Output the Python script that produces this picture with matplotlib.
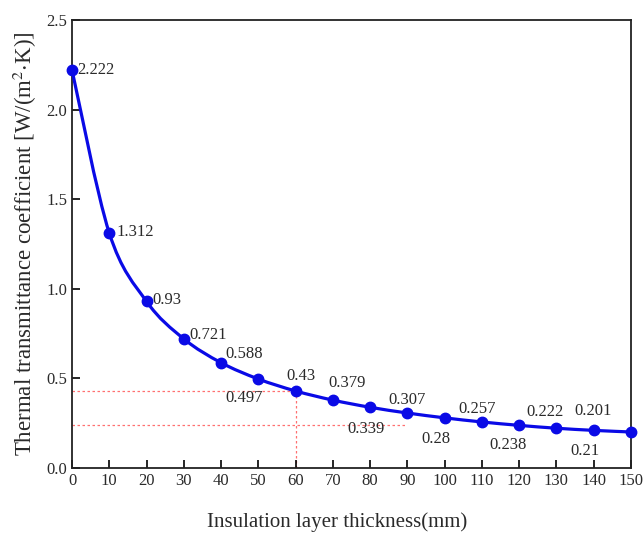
import matplotlib
matplotlib.use('Agg')
import matplotlib.pyplot as plt
from matplotlib.path import Path
from matplotlib.patches import PathPatch
import numpy as np

# Data
thickness = [0, 10, 20, 30, 40, 50, 60, 70, 80, 90, 100, 110, 120, 130, 140, 150]
u_value = [2.222, 1.312, 0.93, 0.721, 0.588, 0.497, 0.43, 0.379, 0.339,
           0.307, 0.28, 0.257, 0.238, 0.222, 0.21, 0.201]

# (label, anchor index, dx pts, dy pts, ha)
labels = [
    ('2.222', 0, 4, 0, 'left'),
    ('1.312', 1, 5, 1, 'left'),
    ('0.93', 2, 4, 1, 'left'),
    ('0.721', 3, 4, 3, 'left'),
    ('0.588', 4, 3, 6, 'left'),
    ('0.497', 5, -10, -14, 'center'),
    ('0.43', 6, 4, 11, 'center'),
    ('0.379', 7, 10, 12, 'center'),
    ('0.339', 8, -3, -16, 'center'),
    ('0.307', 9, 0, 9, 'center'),
    ('0.28', 10, -6, -15, 'center'),
    ('0.257', 11, -3, 9, 'center'),
    ('0.238', 12, -8, -14, 'center'),
    ('0.222', 13, -8, 12, 'center'),
    ('0.201', 14, 0, 14, 'center'),
    ('0.21', 14, -6, -15, 'center'),
]

TEXT = '#2a2a2a'
BLUE = '#0a0ae6'
RED = '#ff7070'

plt.rcParams['font.family'] = 'Liberation Serif'
plt.rcParams['mathtext.fontset'] = 'stix'

fig = plt.figure(figsize=(6.43, 5.33), dpi=100)
ax = fig.add_axes([0.112, 0.122, 0.869, 0.840])

# reference dashed lines
ax.plot([0, 60], [0.43, 0.43], color=RED, linestyle=(0, (2, 2)), linewidth=0.9, zorder=1)
ax.plot([60, 60], [0, 0.43], color=RED, linestyle=(0, (2, 2)), linewidth=0.9, zorder=1)
ax.plot([0, 90], [0.238, 0.238], color=RED, linestyle=(0, (2, 2)), linewidth=0.9, zorder=1)

# smooth curve through the points (Catmull-Rom as cubic Bezier segments)
x = np.array(thickness, dtype=float)
y = np.array(u_value, dtype=float)
verts = [(x[0], y[0])]
codes = [Path.MOVETO]
for i in range(len(x) - 1):
    p0 = (x[max(i - 1, 0)], y[max(i - 1, 0)])
    p1 = (x[i], y[i])
    p2 = (x[i + 1], y[i + 1])
    p3 = (x[min(i + 2, len(x) - 1)], y[min(i + 2, len(x) - 1)])
    c1 = (p1[0] + (p2[0] - p0[0]) / 6, p1[1] + (p2[1] - p0[1]) / 6)
    c2 = (p2[0] - (p3[0] - p1[0]) / 6, p2[1] - (p3[1] - p1[1]) / 6)
    verts += [c1, c2, p2]
    codes += [Path.CURVE4] * 3
ax.add_patch(PathPatch(Path(verts, codes), facecolor='none', edgecolor=BLUE,
                       linewidth=2.3, zorder=3))
ax.plot(thickness, u_value, linestyle='none', color=BLUE, marker='o', markersize=7.5,
        zorder=4, clip_on=False)

for txt, i, dx, dy, ha in labels:
    ax.annotate(txt, (thickness[i], u_value[i]), xytext=(dx, dy), textcoords='offset points',
                ha=ha, va='center', fontsize=12, color=TEXT)

ax.set_xlim(0, 150)
ax.set_ylim(0, 2.5)
ax.set_xticks(np.arange(0, 151, 10))
ax.set_yticks(np.arange(0, 2.51, 0.5))
ax.set_yticklabels([f'{v:.1f}' for v in np.arange(0, 2.51, 0.5)])
ax.tick_params(direction='in', length=6, width=1.2, labelsize=12, labelcolor=TEXT,
               top=False, right=False)
for s in ax.spines.values():
    s.set_linewidth(1.3)
    s.set_color('#222222')

ax.set_xlabel('Insulation layer thickness(mm)', fontsize=15, color=TEXT)
ax.xaxis.set_label_coords(0.475, -0.1)
ax.set_ylabel(r'Thermal transmittance coefficient [W/(m$^2$$\cdot$K)]', fontsize=16.5,
              color=TEXT, labelpad=5)

fig.savefig('out.png', dpi=100)
